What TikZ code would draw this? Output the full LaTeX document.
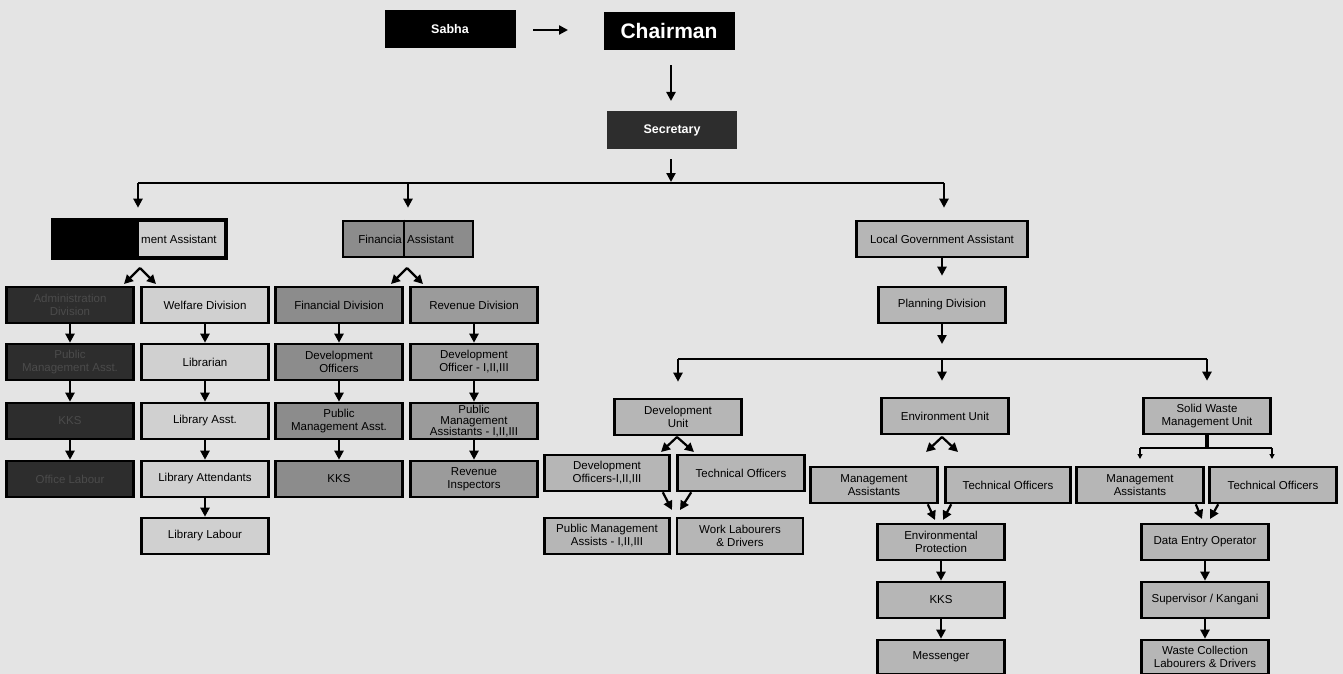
\documentclass[tikz,border=0pt]{standalone}
\usepackage{fontspec}
\setmainfont{Liberation Sans}
\usepackage{tikz}
\usetikzlibrary{arrows.meta,positioning,calc}
\definecolor{paper}{RGB}{228,228,228}
\definecolor{lightbox}{RGB}{208,208,208}
\definecolor{midbox}{RGB}{182,182,182}
\definecolor{finbox}{RGB}{140,140,140}
\definecolor{revbox}{RGB}{155,155,155}
\definecolor{darkbox}{RGB}{45,45,45}
\definecolor{darktext}{RGB}{75,75,75}

\tikzset{
  unit/.style={draw=black,line width=2.6pt,minimum width=127pt,minimum height=36pt,
    inner sep=1pt,align=center,font=\fontsize{11.5}{13}\selectfont,fill=midbox},
  welfare/.style={unit,fill=lightbox},
  fin/.style={unit,fill=finbox},
  rev/.style={unit,fill=revbox},
  hidden/.style={unit,fill=darkbox,text=darktext},
  head/.style={fill=black,text=white,minimum width=131pt,minimum height=38pt,
    font=\fontsize{12.5}{12.5}\selectfont\bfseries},
  arr/.style={-{Triangle[length=9pt,width=9pt]},line width=2.2pt},
  thinarr/.style={-{Triangle[length=5pt,width=5pt]},line width=1.2pt}
}

\begin{document}
\begin{tikzpicture}[x=1pt,y=-1pt]
    \useasboundingbox[fill=paper] (0,0) rectangle (1343,674);

    % Top of the chart
    \node[head] (sabha) at (450,29) {Sabha};
    \node[head,font=\fontsize{21}{21}\selectfont\bfseries] (chair) at (669,31) {Chairman};
    \node[head,fill=darkbox,minimum width=130pt] (sec) at (672,130) {Secretary};
    \coordinate (sabhaR) at (533,30);
    \coordinate (chairL) at (568,30);
    \draw[arr] (sabhaR) -- (chairL);
    \draw[arr] (chair.south -| 671,0) ++(0,15) coordinate (c1) -- (671,101);
    \draw[arr] (sec.south -| 671,0) ++(0,10) -- (671,182);

    % Main bar and the three assistants
    \coordinate (barL) at (138,183);
    \coordinate (barR) at (944,183);
    \draw[line width=2.2pt] (barL) -- (barR);
    \node[unit,minimum width=171pt,fill=lightbox] (ma) at (139.5,239) {};
    \fill[black] (ma.north west) rectangle ($(ma.south west)+(86,0)$);
    \node[font=\fontsize{11.5}{11.5}\selectfont,anchor=west] at ($(ma.west)+(85,0)$) {ment Assistant};
    \draw[line width=2.6pt] (ma.north west) rectangle (ma.south east);
    \node[fin,minimum width=130pt] (fa) at (408,239) {};
    \draw[line width=2.4pt] ($(fa.north)+(-4,0)$) -- ($(fa.south)+(-4,0)$);
    \node[font=\fontsize{11.5}{11.5}\selectfont,anchor=east,inner sep=1pt] at ($(fa.center)+(-5,0)$) {Financia};
    \node[font=\fontsize{11.5}{11.5}\selectfont,anchor=west,inner sep=1pt] at ($(fa.center)+(-2,0)$) {Assistant};
    \node[unit,minimum width=171pt] (lga) at (942,239) {Local Government Assistant};
    \draw[arr] (barL) -- ($(ma.north -| barL)+(0,-12)$);
    \draw[arr] (408,183) -- ($(fa.north)+(0,-12)$);
    \draw[arr] (barR) -- ($(lga.north -| barR)+(0,-12)$);

    % Left: administration and welfare
    \coordinate (maApex) at (140,268);
    \draw[arr] (maApex) -- (124,284);
    \draw[arr] (maApex) -- (156,284);
    \node[hidden] (adm) at (70,305) {Administration\\Division};
    \node[hidden] (pma) at (70,362) {Public\\Management Asst.};
    \node[hidden] (kksA) at (70,421) {KKS};
    \node[hidden] (office) at (70,479) {Office Labour};
    \node[welfare] (wel) at (205,305) {Welfare Division};
    \node[welfare] (lib) at (205,362) {Librarian};
    \node[welfare] (libA) at (205,421) {Library Asst.};
    \node[welfare] (libAtt) at (205,479) {Library Attendants};
    \node[welfare] (libL) at (205,536) {Library Labour};
    \foreach \a/\b in {adm/pma,pma/kksA,kksA/office,wel/lib,lib/libA,libA/libAtt,libAtt/libL}
      \draw[arr] (\a) -- (\b);

    % Finance and revenue
    \coordinate (faApex) at (407,268);
    \draw[arr] (faApex) -- (391,284);
    \draw[arr] (faApex) -- (423,284);
    \node[fin] (finD) at (339,305) {Financial Division};
    \node[fin] (devO) at (339,362) {Development\\Officers};
    \node[fin] (pmaF) at (339,421) {Public\\Management Asst.};
    \node[fin] (kksF) at (339,479) {KKS};
    \node[rev] (revD) at (474,305) {Revenue Division};
    \node[rev] (devOR) at (474,362) {Development\\Officer - I,II,III};
    \node[rev,font=\fontsize{11.5}{11}\selectfont] (pmaR) at (474,421) {Public\\Management\\Assistants - I,II,III};
    \node[rev] (revI) at (474,479) {Revenue\\Inspectors};
    \foreach \a/\b in {finD/devO,devO/pmaF,pmaF/kksF,revD/devOR,devOR/pmaR,pmaR/revI}
      \draw[arr] (\a) -- (\b);

    % Right: planning
    \node[unit] (plan) at (942,305) {Planning Division};
    \draw[arr] (lga.south -| 942,0) ++(0,0) -- ($(plan.north)+(0,-10)$);
    \coordinate (bar2L) at (678,359);
    \coordinate (bar2R) at (1207,359);
    \draw[line width=2.2pt] (bar2L) -- (bar2R);
    \draw[arr] (plan.south) -- (942,344);
    \node[unit] (devU) at (678,417) {Development\\Unit};
    \node[unit] (envU) at (945,416) {Environment Unit};
    \node[unit] (swU) at (1207,416) {Solid Waste\\Management Unit};
    \draw[arr] (bar2L) -- ($(devU.north)+(0,-16)$);
    \draw[arr] (942,359) -- ($(envU.north -| 942,0)+(0,-16)$);
    \draw[arr] (bar2R) -- ($(swU.north)+(0,-16)$);

    % Development unit
    \coordinate (devApex) at (677,437);
    \draw[arr] (devApex) -- (661,452);
    \draw[arr] (devApex) -- (694,452);
    \node[unit,minimum width=125pt] (devOff) at (607,473) {Development\\Officers-I,II,III};
    \node[unit] (techD) at (741,473) {Technical Officers};
    \node[unit,minimum width=125pt] (pmAs) at (607,536) {Public Management\\Assists - I,II,III};
    \node[unit,minimum width=126pt] (work) at (740,536) {Work Labourers\\\& Drivers};
    \coordinate (devMeet) at (676,510);
    \draw[arr] ($(devOff.south east)+(-8,0)$) -- ($(devMeet)+(-4,0)$);
    \draw[arr] ($(techD.south west)+(15,0)$) -- ($(devMeet)+(4,0)$);

    % Environment unit
    \coordinate (envApex) at (942,437);
    \draw[arr] (envApex) -- (926,452);
    \draw[arr] (envApex) -- (958,452);
    \node[unit] (mgmtE) at (874,485) {Management\\Assistants};
    \node[unit,minimum width=125pt] (techE) at (1008,485) {Technical Officers};
    \node[unit] (envP) at (941,542) {Environmental\\Protection};
    \node[unit] (kksE) at (941,600) {KKS};
    \node[unit,minimum height=34pt] (mess) at (941,657) {Messenger};
    \coordinate (envMeet) at (939,520);
    \draw[arr] ($(mgmtE.south east)+(-11,0)$) -- ($(envMeet)+(-4,0)$);
    \draw[arr] ($(techE.south west)+(7,0)$) -- ($(envMeet)+(4,0)$);
    \draw[arr] (envP) -- (kksE);
    \draw[arr] (kksE) -- (mess);

    % Solid waste unit
    \coordinate (swStub) at (1207,448);
    \coordinate (swL) at (1140,448);
    \coordinate (swR) at (1272,448);
    \draw[line width=4.5pt] (swU.south) -- (swStub);
    \draw[line width=1.3pt] (swL) -- (swR);
    \draw[thinarr] (swL) -- ++(0,11);
    \draw[thinarr] (swR) -- ++(0,11);
    \node[unit] (mgmtS) at (1140,485) {Management\\Assistants};
    \node[unit] (techS) at (1273,485) {Technical Officers};
    \node[unit] (data) at (1205,542) {Data Entry Operator};
    \node[unit] (sup) at (1205,600) {Supervisor / Kangani};
    \node[unit,minimum height=34pt] (waste) at (1205,657) {Waste Collection\\Labourers \& Drivers};
    \coordinate (swMeet) at (1206,519);
    \draw[arr] ($(mgmtS.south east)+(-9,0)$) -- ($(swMeet)+(-4,0)$);
    \draw[arr] ($(techS.south west)+(10,0)$) -- ($(swMeet)+(4,0)$);
    \draw[arr] (data) -- (sup);
    \draw[arr] (sup) -- (waste);
\end{tikzpicture}
\end{document}
